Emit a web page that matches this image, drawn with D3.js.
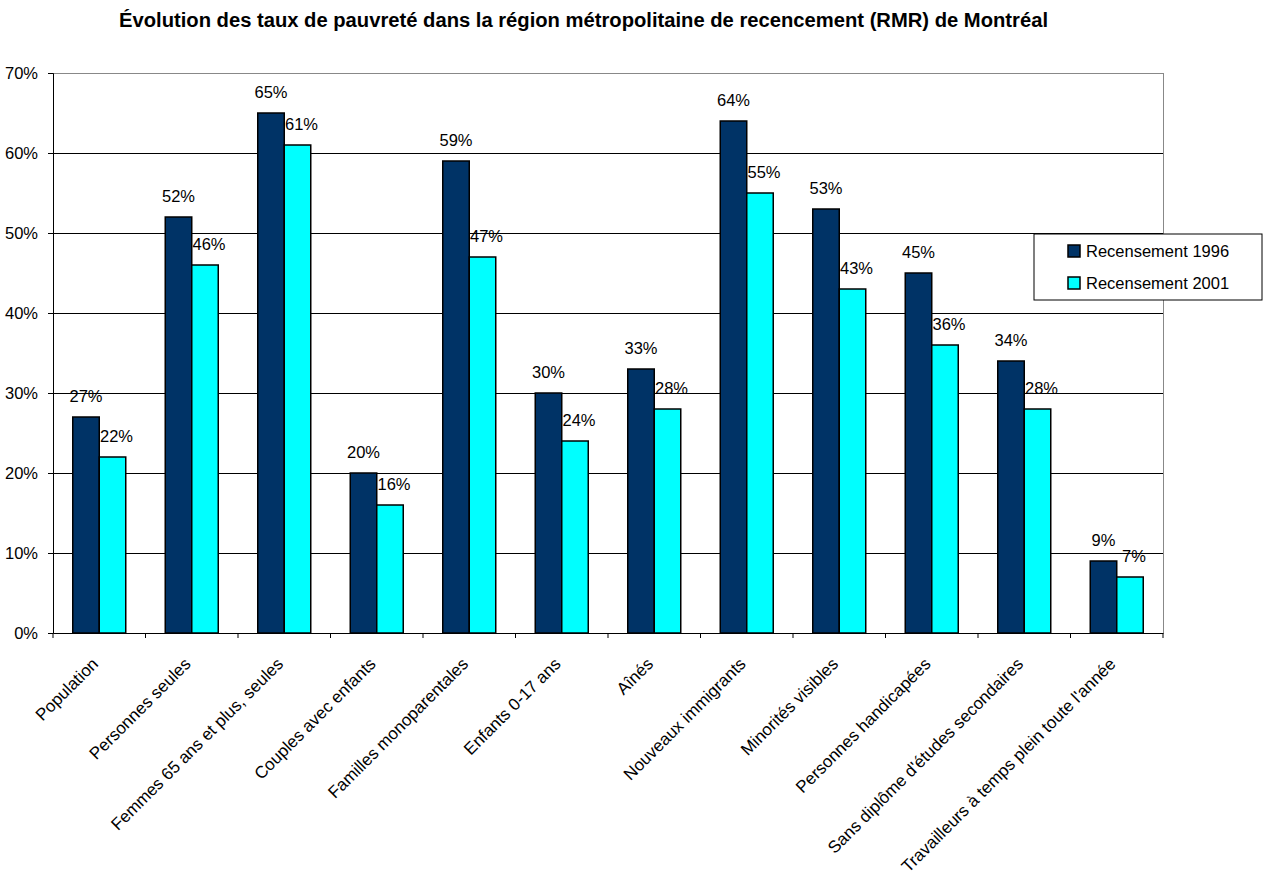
<!DOCTYPE html>
<html lang="fr">
<head>
<meta charset="UTF-8">
<title>Évolution des taux de pauvreté - RMR de Montréal</title>
<script src="https://d3js.org/d3.v7.min.js"></script>
<style>
  body { margin: 0; background: #fff; font-family: "Liberation Sans", Arial, sans-serif; }
  svg text { fill: #000; }
</style>
</head>
<body>
<div id="chart"></div>
<script>
const categories = [
  "Population", "Personnes seules", "Femmes 65 ans et plus, seules",
  "Couples avec enfants", "Familles monoparentales", "Enfants 0-17 ans",
  "Aînés", "Nouveaux immigrants", "Minorités visibles",
  "Personnes handicapées", "Sans diplôme d'études secondaires",
  "Travailleurs à temps plein toute l'année"
];
const seriesNames = ["Recensement 1996", "Recensement 2001"];
const values1996 = [27, 52, 65, 20, 59, 30, 33, 64, 53, 45, 34, 9];
const values2001 = [22, 46, 61, 16, 47, 24, 28, 55, 43, 36, 28, 7];
const yTicks = [0, 10, 20, 30, 40, 50, 60, 70];
const colors = ["#003366", "#00FFFF"];

const W = 1263, H = 882;
const plot = { left: 53, right: 1163, top: 73, bottom: 633 };

const svg = d3.select("#chart").append("svg")
  .attr("width", W).attr("height", H);

// title
svg.append("text")
  .attr("x", 119).attr("y", 27)
  .attr("font-size", 20).attr("font-weight", "bold")
  .attr("textLength", 929).attr("lengthAdjust", "spacingAndGlyphs")
  .text("Évolution des taux de pauvreté dans la région métropolitaine de recencement (RMR) de Montréal");

const x = d3.scaleBand().domain(categories).range([plot.left, plot.right]).padding(0);
const groupW = 53;
const xs = d3.scaleBand().domain(seriesNames)
  .range([x.bandwidth() / 2 - groupW / 2, x.bandwidth() / 2 + groupW / 2]);
const y = d3.scaleLinear().domain([0, 70]).range([plot.bottom, plot.top]);

// gridlines
svg.append("g").selectAll("line")
  .data(yTicks.filter(d => d > 0))
  .enter().append("line")
  .attr("x1", plot.left).attr("x2", plot.right)
  .attr("y1", d => y(d)).attr("y2", d => y(d))
  .attr("stroke", d => d === 70 ? "#888" : "#000")
  .attr("stroke-width", 1)
  .attr("shape-rendering", "crispEdges");

// right border
svg.append("line")
  .attr("x1", plot.right).attr("x2", plot.right)
  .attr("y1", plot.top).attr("y2", plot.bottom)
  .attr("stroke", "#888").attr("shape-rendering", "crispEdges");

const table = categories.map((c, i) => ({ cat: c, vals: [values1996[i], values2001[i]] }));

const groups = svg.append("g").selectAll("g")
  .data(table).enter().append("g")
  .attr("transform", d => `translate(${x(d.cat)},0)`);

groups.selectAll("rect")
  .data(d => d.vals.map((v, k) => ({ s: seriesNames[k], v, k })))
  .enter().append("rect")
  .attr("x", d => xs(d.s))
  .attr("y", d => y(d.v))
  .attr("width", xs.bandwidth())
  .attr("height", d => y(0) - y(d.v))
  .attr("fill", d => colors[d.k])
  .attr("stroke", "#000")
  .attr("stroke-width", 1.5);

groups.selectAll("text.val")
  .data(d => d.vals.map((v, k) => ({ s: seriesNames[k], v, k })))
  .enter().append("text")
  .attr("class", "val")
  .attr("x", d => xs(d.s) + xs.bandwidth() / 2 + (d.k === 1 ? 4 : 0))
  .attr("y", d => y(d.v) - 15)
  .attr("text-anchor", "middle")
  .attr("font-size", 16.5)
  .text(d => d.v + "%");

// y axis
const yAxis = svg.append("g")
  .attr("transform", `translate(${plot.left},0)`)
  .call(d3.axisLeft(y).tickValues(yTicks).tickFormat(d => d + "%").tickSize(5).tickPadding(10));
yAxis.select(".domain").attr("stroke", "#000");
yAxis.selectAll("text").attr("font-size", 16.5).attr("font-family", "Liberation Sans, Arial, sans-serif");

// x axis
const xAxis = svg.append("g")
  .attr("transform", `translate(0,${plot.bottom})`)
  .call(d3.axisBottom(x).tickSize(0).tickFormat(""));
xAxis.select(".domain").attr("stroke", "#000");
xAxis.selectAll(".tick").remove();

svg.append("g").selectAll("line")
  .data(d3.range(categories.length + 1))
  .enter().append("line")
  .attr("x1", i => plot.left + i * x.step())
  .attr("x2", i => plot.left + i * x.step())
  .attr("y1", plot.bottom).attr("y2", plot.bottom + 5)
  .attr("stroke", "#000");

svg.append("g").selectAll("text")
  .data(categories).enter().append("text")
  .attr("transform", d => `translate(${x(d) + x.bandwidth() / 2},${plot.bottom + 32}) rotate(-45)`)
  .attr("text-anchor", "end")
  .attr("font-size", 17)
  .text(d => d);

// legend
const lg = svg.append("g").attr("transform", "translate(1034,234)");
lg.append("rect").attr("width", 228).attr("height", 66)
  .attr("fill", "#fff").attr("stroke", "#000");
seriesNames.forEach((s, i) => {
  lg.append("rect").attr("x", 34).attr("y", 11 + i * 32).attr("width", 12).attr("height", 12)
    .attr("fill", colors[i]).attr("stroke", "#000").attr("stroke-width", 1.5);
  lg.append("text").attr("x", 52).attr("y", 23 + i * 32)
    .attr("font-size", 16.5).text(s);
});
</script>
</body>
</html>
